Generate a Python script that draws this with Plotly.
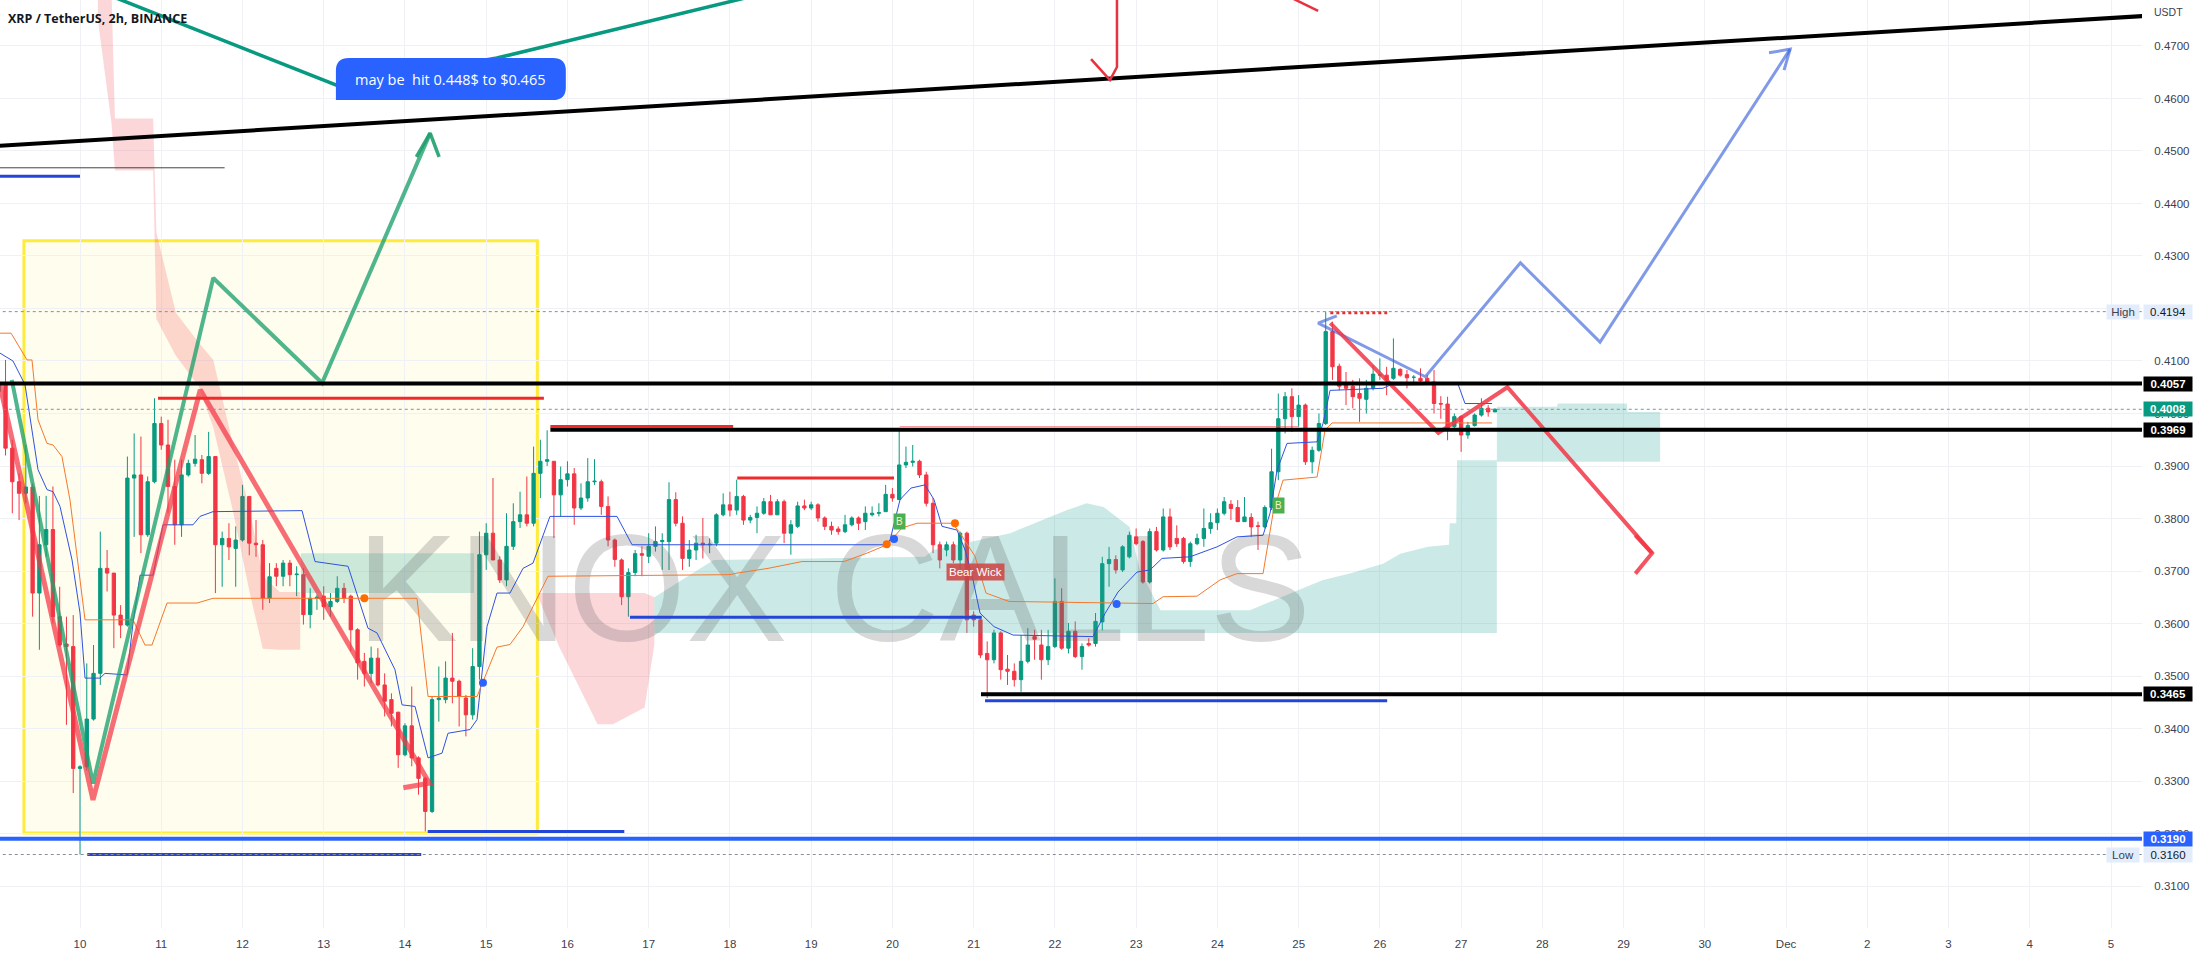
import plotly.graph_objects as go

# ---------------- time axis: fractional day of Nov 2022 (Dec 1 = 31) ----------------
START_DAY = 9.0          # first 2h candle: 9 Nov 00:00
STEP = 1 / 12            # 2 hours
X_MIN, X_MAX = 9.0153, 35.381
Y_MIN, Y_MAX = 0.3020, 0.47876

opens = [
    .4042, .4054, .3934, .3870, .3848, .3860, .3658, .3750, .3779, .3613, .3561, .3556,
    .3324, .3327, .3418, .3505, .3705, .3696, .3616, .3597, .3877, .3883, .3769, .3870,
    .3981, .3940, .3861, .3788, .3883, .3905, .3912, .3886, .3918, .3750, .3762, .3743,
    .3759, .3842, .3753, .3750, .3648, .3705, .3690, .3715, .3693, .3693, .3617, .3648,
    .3652, .3632, .3642, .3667, .3652, .3588, .3528, .3505, .3534, .3483, .3455, .3431,
    .3350, .3405, .3344, .3305, .3242, .3455, .3455, .3496, .3490, .3458, .3426, .3518,
    .3731, .3772, .3721, .3683, .3747, .3794, .3807, .3791, .3886, .3909, .3909, .3845,
    .3874, .3885, .3820, .3839, .3870, .3870, .3823, .3759, .3721, .3651, .3697, .3733,
    .3728, .3747, .3756, .3756, .3836, .3791, .3724, .3740, .3753, .3750, .3753, .3807,
    .3826, .3816, .3842, .3797, .3802, .3810, .3832, .3807, .3832, .3772, .3785, .3824,
    .3820, .3826, .3801, .3785, .3780, .3775, .3788, .3801, .3794, .3807, .3810, .3813,
    .3846, .3836, .3902, .3907, .3909, .3883, .3829, .3750, .3740, .3750, .3721, .3772,
    .3616, .3607, .3543, .3531, .3582, .3513, .3509, .3493, .3528, .3575, .3559, .3531,
    .3556, .3642, .3553, .3585, .3537, .3562, .3562, .3603, .3714, .3722, .3702, .3727,
    .3765, .3756, .3679, .3775, .3740, .3803, .3762, .3762, .3718, .3752, .3762, .3781,
    .3792, .3810, .3827, .3821, .3794, .3802, .3786, .3784, .3821, .3889, .3990, .4032,
    .3994, .4016, .3908, .3930, .3981, .4156, .4090, .4056, .4052, .4038, .4027, .4048,
    .4073, .4073, .4067, .4084, .4074, .4069, .4067, .4067, .4060, .4019, .4018, .3975,
    .3994, .3959, .3977, .3997, .4010, .4003,
]
highs = [
    .4102, .4102, .3950, .3886, .3940, .3867, .3843, .3843, .3861, .3670, .3613, .3616,
    .3330, .3524, .3559, .3775, .3740, .3696, .3635, .3918, .3962, .3956, .3880, .4029,
    .3994, .3988, .3912, .3912, .3912, .3959, .3921, .3965, .3918, .3775, .3791, .3785,
    .3864, .3842, .3797, .3759, .3715, .3715, .3721, .3721, .3709, .3705, .3667, .3655,
    .3671, .3658, .3690, .3677, .3655, .3591, .3544, .3556, .3553, .3505, .3467, .3432,
    .3410, .3480, .3347, .3308, .3461, .3518, .3528, .3582, .3493, .3464, .3553, .3775,
    .3791, .3877, .3728, .3810, .3829, .3851, .3880, .3937, .3950, .3968, .3909, .3899,
    .3909, .3896, .3867, .3915, .3913, .3874, .3842, .3762, .3724, .3705, .3740, .3747,
    .3772, .3785, .3772, .3869, .3850, .3804, .3759, .3769, .3801, .3762, .3810, .3848,
    .3851, .3874, .3845, .3807, .3823, .3839, .3845, .3837, .3836, .3797, .3832, .3836,
    .3832, .3829, .3804, .3794, .3785, .3807, .3804, .3804, .3823, .3823, .3829, .3864,
    .3858, .3969, .3937, .3940, .3912, .3889, .3839, .3756, .3756, .3756, .3775, .3775,
    .3623, .3610, .3566, .3588, .3585, .3540, .3524, .3578, .3591, .3588, .3588, .3588,
    .3686, .3667, .3601, .3604, .3562, .3572, .3620, .3727, .3746, .3730, .3749, .3775,
    .3781, .3759, .3781, .3784, .3819, .3819, .3787, .3765, .3756, .3771, .3819, .3810,
    .3819, .3841, .3835, .3835, .3841, .3810, .3794, .3825, .3933, .4038, .4041, .4048,
    .4035, .4019, .3937, .4000, .4194, .4175, .4095, .4079, .4064, .4067, .4064, .4092,
    .4105, .4089, .4143, .4086, .4083, .4073, .4086, .4073, .4083, .4033, .4032, .4000,
    .3997, .3984, .4000, .4029, .4016, .4010,
]
lows = [
    .3950, .3920, .3810, .3797, .3829, .3613, .3550, .3727, .3600, .3556, .3407, .3277,
    .3160, .3320, .3415, .3483, .3661, .3553, .3572, .3594, .3765, .3734, .3765, .3867,
    .3931, .3810, .3750, .3765, .3880, .3899, .3867, .3883, .3658, .3670, .3721, .3670,
    .3756, .3730, .3727, .3626, .3639, .3671, .3671, .3671, .3652, .3598, .3591, .3626,
    .3607, .3613, .3639, .3639, .3547, .3493, .3480, .3486, .3480, .3423, .3404, .3325,
    .3347, .3328, .3274, .3204, .3239, .3413, .3448, .3448, .3404, .3385, .3417, .3493,
    .3702, .3721, .3677, .3671, .3740, .3782, .3785, .3785, .3839, .3900, .3763, .3804,
    .3861, .3788, .3816, .3832, .3864, .3807, .3747, .3708, .3635, .3613, .3690, .3690,
    .3715, .3737, .3702, .3702, .3785, .3702, .3708, .3721, .3724, .3734, .3747, .3804,
    .3804, .3807, .3788, .3791, .3772, .3807, .3807, .3807, .3753, .3731, .3782, .3816,
    .3816, .3794, .3778, .3769, .3769, .3772, .3785, .3778, .3778, .3804, .3804, .3813,
    .3832, .3836, .3896, .3899, .3877, .3823, .3734, .3705, .3728, .3715, .3696, .3582,
    .3594, .3534, .3458, .3524, .3493, .3483, .3480, .3470, .3524, .3531, .3493, .3521,
    .3553, .3550, .3543, .3534, .3512, .3556, .3556, .3587, .3670, .3695, .3698, .3724,
    .3749, .3676, .3676, .3737, .3737, .3740, .3746, .3714, .3708, .3749, .3746, .3771,
    .3778, .3806, .3797, .3794, .3794, .3765, .3740, .3781, .3816, .3873, .3962, .3965,
    .3975, .3902, .3886, .3927, .3978, .4064, .4044, .4016, .4010, .3984, .4000, .4044,
    .4064, .4035, .4064, .4070, .4048, .4057, .4057, .4057, .4000, .3990, .3949, .3971,
    .3927, .3952, .3975, .3994, .3994, .4003,
]
closes = [
    .4054, .3934, .3870, .3848, .3860, .3658, .3750, .3779, .3613, .3559, .3556, .3324,
    .3327, .3418, .3505, .3705, .3696, .3616, .3597, .3877, .3883, .3769, .3870, .3981,
    .3940, .3861, .3788, .3883, .3905, .3913, .3886, .3918, .3750, .3762, .3746, .3759,
    .3842, .3753, .3750, .3648, .3689, .3690, .3715, .3693, .3694, .3617, .3648, .3650,
    .3632, .3642, .3667, .3648, .3588, .3525, .3505, .3534, .3483, .3452, .3429, .3350,
    .3405, .3344, .3305, .3242, .3455, .3458, .3496, .3490, .3461, .3426, .3518, .3731,
    .3772, .3721, .3683, .3747, .3794, .3807, .3791, .3886, .3909, .3912, .3845, .3874,
    .3885, .3820, .3839, .3870, .3871, .3823, .3759, .3722, .3651, .3697, .3733, .3730,
    .3747, .3756, .3758, .3836, .3791, .3724, .3740, .3753, .3750, .3751, .3807, .3826,
    .3816, .3842, .3797, .3802, .3810, .3832, .3807, .3832, .3772, .3788, .3824, .3820,
    .3826, .3801, .3785, .3778, .3775, .3788, .3801, .3791, .3810, .3810, .3811, .3846,
    .3839, .3902, .3907, .3909, .3883, .3829, .3750, .3721, .3750, .3721, .3772, .3607,
    .3607, .3540, .3531, .3582, .3512, .3509, .3493, .3528, .3559, .3570, .3531, .3556,
    .3642, .3553, .3585, .3537, .3556, .3559, .3604, .3714, .3722, .3702, .3746, .3768,
    .3752, .3679, .3775, .3740, .3803, .3746, .3752, .3718, .3752, .3762, .3781, .3792,
    .3810, .3832, .3819, .3794, .3803, .3784, .3785, .3821, .3889, .3990, .4032, .3994,
    .4016, .3908, .3930, .3981, .4156, .4089, .4052, .4048, .4032, .4029, .4048, .4075,
    .4074, .4064, .4086, .4073, .4068, .4069, .4062, .4060, .4019, .4018, .3971, .3994,
    .3959, .3977, .3997, .4010, .4003, .4008,
]
candle_x = [START_DAY + i * STEP for i in range(len(opens))]

# ---------------- indicator lines ----------------
tenkan_t = [9.015, 9.175, 9.323, 9.421, 9.483, 9.594, 9.668, 9.754, 9.902, 10.0, 10.062, 10.246, 10.308,
            10.579, 10.652, 10.739, 10.899, 11.022, 11.391, 11.477, 11.637, 12.733, 12.893, 13.299, 13.545,
            13.656, 13.877, 13.964, 14.124, 14.284, 14.456, 14.530, 14.801, 14.887, 15.010, 15.133, 15.293,
            15.453, 15.576, 15.785, 16.610, 16.795, 19.909, 19.971, 20.094, 20.229, 20.401, 20.512, 20.611,
            20.795, 20.894, 20.992, 21.078, 21.251, 21.485, 22.469, 22.617, 22.777, 23.011, 23.171, 23.319,
            23.663, 23.996, 24.242, 24.562, 24.648, 24.734, 24.857, 25.227, 25.300, 25.387, 26.039, 26.125,
            26.962, 27.048, 27.381]
tenkan_v = [0.4115, 0.4100, 0.4055, 0.3950, 0.3893, 0.3855, 0.3851, 0.3823, 0.3721, 0.3620, 0.3496, 0.3496, 0.3505,
            0.3502, 0.3600, 0.3692, 0.3692, 0.3788, 0.3788, 0.3804, 0.3813, 0.3815, 0.3718, 0.3709, 0.3591,
            0.3582, 0.3512, 0.3445, 0.3442, 0.3344, 0.3353, 0.3391, 0.3398, 0.3417, 0.3594, 0.3658, 0.3658,
            0.3705, 0.3715, 0.3804, 0.3804, 0.3750, 0.3750, 0.3759, 0.3836, 0.3858, 0.3864, 0.3836, 0.3785,
            0.3778, 0.3740, 0.3683, 0.3620, 0.3594, 0.3578, 0.3575, 0.3619, 0.3660, 0.3698, 0.3702, 0.3724,
            0.3727, 0.3746, 0.3765, 0.3768, 0.3810, 0.3892, 0.3943, 0.3946, 0.3981, 0.4044, 0.4048, 0.4054,
            0.4056, 0.4019, 0.4019]
kijun_t = [9.015, 9.151, 9.348, 9.409, 9.483, 9.594, 9.668, 9.778, 9.877, 10.0, 10.062, 10.652, 10.800, 10.886,
           11.071, 11.440, 11.637, 14.148, 14.284, 14.887, 15.133, 15.293, 15.453, 15.761, 18.001, 18.087,
           18.469, 18.887, 19.404, 19.687, 19.933, 20.118, 20.303, 20.734, 20.820, 21.017, 21.152, 21.435,
           23.208, 23.331, 23.749, 24.033, 24.242, 24.562, 24.685, 24.808, 25.227, 25.325, 25.411, 27.381]
kijun_v = [0.4153, 0.4153, 0.4102, 0.4102, 0.3988, 0.3943, 0.3940, 0.3918, 0.3835, 0.3689, 0.3607, 0.3607, 0.3559, 0.3559,
           0.3639, 0.3639, 0.3648, 0.3648, 0.3461, 0.3461, 0.3555, 0.3560, 0.3594, 0.3690, 0.3693, 0.3696,
           0.3705, 0.3718, 0.3718, 0.3734, 0.3750, 0.3782, 0.3791, 0.3791, 0.3775, 0.3728, 0.3658, 0.3642,
           0.3638, 0.3651, 0.3652, 0.3683, 0.3695, 0.3695, 0.3810, 0.3873, 0.3879, 0.3968, 0.3982, 0.3982]

# ---------------- ichimoku cloud pieces ----------------
red1_t = [10.22, 10.39, 10.43, 10.90, 10.94, 11.18, 11.46, 11.64, 11.88, 12.09, 12.25, 12.46, 12.71]
red1_hi = [0.4790, 0.4790, 0.4562, 0.4562, 0.4345, 0.4192, 0.4135, 0.4102, 0.3944, 0.3816, 0.3690, 0.3660, 0.3660]
red1_lo = [0.4750, 0.4550, 0.4463, 0.4463, 0.4180, 0.4110, 0.4052, 0.3974, 0.3816, 0.3658, 0.3552, 0.3550, 0.3550]
teal1_t = [12.72, 14.85]
teal1_hi = [0.3734, 0.3734]
teal1_lo = [0.3658, 0.3658]
red2_t = [15.64, 15.90, 16.37, 16.56, 16.95, 17.07]
red2_hi = [0.3658, 0.3658, 0.3658, 0.3658, 0.3658, 0.3650]
red2_lo = [0.3650, 0.3555, 0.3408, 0.3408, 0.3440, 0.3560]
teal2_t = [17.07, 17.80, 20.40, 20.50, 21.45, 22.15, 22.39, 22.60, 22.92, 23.05, 23.30, 24.40, 25.00, 25.30,
           25.63, 26.04, 26.25, 26.59, 26.85, 26.86, 26.94, 26.95, 27.44]
teal2_hi = [0.3650, 0.3721, 0.3727, 0.3740, 0.3772, 0.3816, 0.3829, 0.3822, 0.3784, 0.3700, 0.3625, 0.3625, 0.3664,
            0.3683, 0.3695, 0.3714, 0.3733, 0.3746, 0.3750, 0.3791, 0.3791, 0.3911, 0.3911]
teal2_lo = [0.3582] * 23
teal3_t = [27.44, 28.18, 28.19, 29.04, 29.05, 29.45]
teal3_hi = [0.4013, 0.4013, 0.4019, 0.4019, 0.4003, 0.4003]
teal3_lo = [0.3908] * 6

# ---------------- drawings ----------------
trend_t, trend_v = [9.0, 35.5], [0.4510, 0.4758]
green_dark_t = [9.88, 13.18, 15.13, 19.11]
green_dark_v = [0.4826, 0.4624, 0.4677, 0.4826]
green_zig_t = [9.16, 10.16, 11.64, 12.98, 14.31]
green_zig_v = [0.4064, 0.3295, 0.4258, 0.4058, 0.4534]
green_head_t = [14.14, 14.31, 14.42]
green_head_v = [0.4489, 0.4534, 0.4489]
red_zig_t = [9.015, 10.16, 11.48, 14.30, 13.98]
red_zig_v = [0.4054, 0.3264, 0.4045, 0.3296, 0.3287]
blue_proj_t = [25.47, 25.24, 26.56, 27.73, 28.71, 31.05]
blue_proj_v = [0.4186, 0.4172, 0.4070, 0.4287, 0.4136, 0.4694]
blue_head_t = [30.79, 31.05, 30.975]
blue_head_v = [0.4687, 0.4694, 0.4654]
red_proj_t = [25.39, 26.72, 27.57, 29.35]
red_proj_v = [0.4172, 0.3963, 0.4050, 0.3734]
red_head_t = [29.145, 29.35, 29.145]
red_head_v = [0.3768, 0.3734, 0.3695]
red_hook_t = [22.764, 22.764, 22.678, 22.445]
red_hook_v = [0.4800, 0.4660, 0.4635, 0.4675]
red_tick_t = [24.80, 25.24]
red_tick_v = [0.4800, 0.4767]

bubble_t, bubble_v = [13.15, 15.98], [0.4597, 0.4677]
bubble_text = "may be  hit 0.448$ to $0.465"
box_t, box_v = [9.31, 15.63], [0.3201, 0.4329]

black_lvls = [0.4057, 0.3969, 0.3465]
black_lvl_start = [9.0, 15.79, 21.09]
blue_lvls = [0.3160, 0.3204, 0.3612, 0.3453, 0.4452]
blue_lvl_start = [10.09, 14.28, 16.77, 21.14, 9.0]
blue_lvl_end = [14.20, 16.70, 21.10, 26.09, 10.0]
red_lvls = [0.4029, 0.3975, 0.3877]
red_lvl_start = [10.96, 15.79, 18.09]
red_lvl_end = [15.71, 18.04, 20.02]
red_dot_lvl, red_dot_span = 0.4192, [25.39, 26.09]
support_main = 0.3190
high_v, low_v, last_v = 0.4194, 0.3160, 0.4008

orange_dots_t, orange_dots_v = [13.50, 19.93, 20.77], [0.3648, 0.3751, 0.3791]
blue_dots_t, blue_dots_v = [14.96, 20.02, 22.76], [0.3487, 0.3761, 0.3637]
b_labels_t, b_labels_v = [20.09, 24.75], [0.3794, 0.3824]
bear_t, bear_v = 21.02, 0.3698
watermark_t, watermark_v = 19.28, 0.3640

tick_days = list(range(9, 36))
tick_text = [str(d) if d <= 30 else ("Dec" if d == 31 else str(d - 30)) for d in tick_days]
price_ticks = [round(0.31 + 0.01 * i, 2) for i in range(17)]

GREEN, RED = "#089981", "#f23645"
TEAL_FILL = "rgba(38,166,154,0.24)"
RED_FILL = "rgba(242,54,69,0.20)"

fig = go.Figure()


def cloud(t, hi, lo, color):
    fig.add_trace(go.Scatter(x=t + t[::-1], y=hi + lo[::-1], fill="toself", fillcolor=color,
                             line=dict(width=0), mode="lines", hoverinfo="skip", showlegend=False))


cloud(red1_t, red1_hi, red1_lo, RED_FILL)
cloud(teal1_t, teal1_hi, teal1_lo, TEAL_FILL)
cloud(red2_t, red2_hi, red2_lo, RED_FILL)
cloud(teal2_t, teal2_hi, teal2_lo, TEAL_FILL)
cloud(teal3_t, teal3_hi, teal3_lo, TEAL_FILL)

# watermark (below candles)
fig.add_trace(go.Scatter(x=[watermark_t], y=[watermark_v], mode="text", text=["KNOX CALLS"],
                         textfont=dict(size=152, color="rgba(90,90,90,0.24)", family="Liberation Sans"),
                         hoverinfo="skip", showlegend=False))

fig.add_trace(go.Scatter(x=tenkan_t, y=tenkan_v, mode="lines", line=dict(color="#2f52e0", width=1),
                         hoverinfo="skip", showlegend=False))
fig.add_trace(go.Scatter(x=kijun_t, y=kijun_v, mode="lines", line=dict(color="#f5782c", width=1),
                         hoverinfo="skip", showlegend=False))

fig.add_trace(go.Candlestick(
    x=candle_x, open=opens, high=highs, low=lows, close=closes,
    increasing=dict(line=dict(color=GREEN, width=1), fillcolor=GREEN),
    decreasing=dict(line=dict(color=RED, width=1), fillcolor=RED),
    whiskerwidth=0, hoverinfo="skip", showlegend=False))

fig.add_trace(go.Scatter(x=orange_dots_t, y=orange_dots_v, mode="markers",
                         marker=dict(color="#ff6d00", size=8), hoverinfo="skip", showlegend=False))
fig.add_trace(go.Scatter(x=blue_dots_t, y=blue_dots_v, mode="markers",
                         marker=dict(color="#2962ff", size=8), hoverinfo="skip", showlegend=False))


def poly(t, v, color, width, dash=None):
    fig.add_trace(go.Scatter(x=t, y=v, mode="lines", line=dict(color=color, width=width, dash=dash),
                             hoverinfo="skip", showlegend=False))


poly(trend_t, trend_v, "#000000", 4)
poly(green_dark_t, green_dark_v, "#089981", 3.5)
poly(green_zig_t, green_zig_v, "rgba(30,160,110,0.78)", 4)
poly(green_head_t, green_head_v, "rgba(30,160,110,0.9)", 3.5)
poly(red_zig_t, red_zig_v, "rgba(242,54,69,0.72)", 5)
poly(blue_proj_t, blue_proj_v, "rgba(60,100,220,0.65)", 3)
poly(blue_head_t, blue_head_v, "rgba(60,100,220,0.65)", 3)
poly(red_proj_t, red_proj_v, "rgba(242,54,69,0.85)", 4)
poly(red_head_t, red_head_v, "rgba(242,54,69,0.85)", 4)
poly(red_hook_t, red_hook_v, "#e8323f", 2.5)
poly(red_tick_t, red_tick_v, "#e8323f", 2.5)

shapes = []
shapes.append(dict(type="rect", x0=box_t[0], x1=box_t[1], y0=box_v[0], y1=box_v[1],
                   line=dict(color="#ffeb3b", width=3), fillcolor="rgba(255,235,59,0.09)", layer="below"))
for lv, s in zip(black_lvls, black_lvl_start):
    shapes.append(dict(type="line", x0=s, x1=X_MAX + 1, y0=lv, y1=lv, line=dict(color="#000000", width=4)))
shapes.append(dict(type="line", x0=X_MIN - 1, x1=X_MAX + 1, y0=support_main, y1=support_main,
                   line=dict(color="#2962ff", width=4)))
for lv, s, e in zip(blue_lvls, blue_lvl_start, blue_lvl_end):
    shapes.append(dict(type="line", x0=s, x1=e, y0=lv, y1=lv, line=dict(color="#2446d6", width=3)))
for lv, s, e in zip(red_lvls, red_lvl_start, red_lvl_end):
    shapes.append(dict(type="line", x0=s, x1=e, y0=lv, y1=lv, line=dict(color="#f02a2a", width=3)))
shapes.append(dict(type="line", x0=red_dot_span[0], x1=red_dot_span[1], y0=red_dot_lvl, y1=red_dot_lvl,
                   line=dict(color="#f02a2a", width=3, dash="dot")))
shapes.append(dict(type="line", x0=9.0, x1=11.78, y0=0.4468, y1=0.4468, line=dict(color="#444", width=1)))
shapes.append(dict(type="line", x0=20.09, x1=25.0, y0=0.3975, y1=0.3975,
                   line=dict(color="rgba(242,54,69,0.55)", width=1)))
for lv in (high_v, last_v, low_v):
    shapes.append(dict(type="line", x0=X_MIN - 1, x1=X_MAX + 1, y0=lv, y1=lv,
                       line=dict(color="#8a8e99", width=1, dash="dot")))

# rounded callout bubble (square bottom-left corner)
bx0, bx1 = bubble_t
by0, by1 = bubble_v
rx, ry = 0.16, 0.0024
bubble_path = (f"M {bx0},{by0} L {bx0},{by1 - ry} Q {bx0},{by1} {bx0 + rx},{by1} "
               f"L {bx1 - rx},{by1} Q {bx1},{by1} {bx1},{by1 - ry} L {bx1},{by0 + ry} "
               f"Q {bx1},{by0} {bx1 - rx},{by0} Z")
shapes.append(dict(type="path", path=bubble_path, fillcolor="#2962ff", line=dict(width=0)))

ann = []
ann.append(dict(x=0, y=1, xref="paper", yref="paper", xanchor="left", yanchor="top", xshift=6, yshift=-8,
                text="<b>XRP / TetherUS, 2h, BINANCE</b>", showarrow=False,
                font=dict(size=12.5, color="#131722", family="Open Sans")))
ann.append(dict(x=(bx0 + bx1) / 2, y=(by0 + by1) / 2, xref="x", yref="y", text=bubble_text, showarrow=False,
                font=dict(size=14.5, color="white", family="Open Sans")))
for t, v in zip(b_labels_t, b_labels_v):
    ann.append(dict(x=t, y=v, xref="x", yref="y", text="B", showarrow=False,
                    font=dict(size=10, color="#f4f4c0", family="Liberation Sans"),
                    bgcolor="#4caf50", borderpad=2))
ann.append(dict(x=bear_t, y=bear_v, xref="x", yref="y", text="Bear Wick", showarrow=False,
                font=dict(size=11.5, color="white", family="Liberation Sans"),
                bgcolor="rgba(205,70,70,0.88)", borderpad=2))

# price-axis tags
tags = [(0.4057, "#000000", "white", True), (0.4008, "#089981", "white", True),
        (0.3969, "#000000", "white", True), (0.3465, "#000000", "white", True),
        (0.3190, "#2962ff", "white", True), (high_v, "#e3ecfb", "#131722", False),
        (low_v, "#e3ecfb", "#131722", False)]
for v, bg, fc, bold in tags:
    txt = f"{v:.4f}"
    ann.append(dict(x=1, y=v, xref="paper", yref="y", xanchor="left", xshift=1, showarrow=False,
                    text=f"<b>{txt}</b>" if bold else txt, bgcolor=bg, width=46, borderpad=1,
                    font=dict(size=11.5, color=fc, family="Liberation Sans")))
for v, lab in ((high_v, "High"), (low_v, "Low")):
    ann.append(dict(x=1, y=v, xref="paper", yref="y", xanchor="right", xshift=-2, showarrow=False,
                    text=lab, bgcolor="#e3ecfb", width=30, borderpad=1,
                    font=dict(size=11.5, color="#3d4150", family="Liberation Sans")))
ann.append(dict(x=1, y=1, xref="paper", yref="paper", xanchor="left", yanchor="top", xshift=10, yshift=-4,
                text="USDT", showarrow=False, font=dict(size=10.5, color="#3d4150", family="Liberation Sans")))

fig.update_layout(
    width=2198, height=958, margin=dict(l=0, r=56, t=0, b=30),
    paper_bgcolor="white", plot_bgcolor="white",
    shapes=shapes, annotations=ann, showlegend=False, hovermode=False, dragmode=False,
    xaxis=dict(range=[X_MIN, X_MAX], tickvals=tick_days, ticktext=tick_text, showgrid=True,
               gridcolor="#f0f1f4", zeroline=False, rangeslider=dict(visible=False), ticks="outside",
               ticklen=5, tickcolor="rgba(0,0,0,0)", tickfont=dict(size=11.5, color="#3d4150",
                                                                   family="Liberation Sans")),
    yaxis=dict(range=[Y_MIN, Y_MAX], side="right", tickvals=price_ticks,
               ticktext=[f"{p:.4f}" for p in price_ticks], showgrid=True, gridcolor="#f0f1f4",
               zeroline=False, ticks="outside", ticklen=9, tickcolor="rgba(0,0,0,0)",
               tickfont=dict(size=11.5, color="#3d4150", family="Liberation Sans")),
)

fig.write_html("out.html")
